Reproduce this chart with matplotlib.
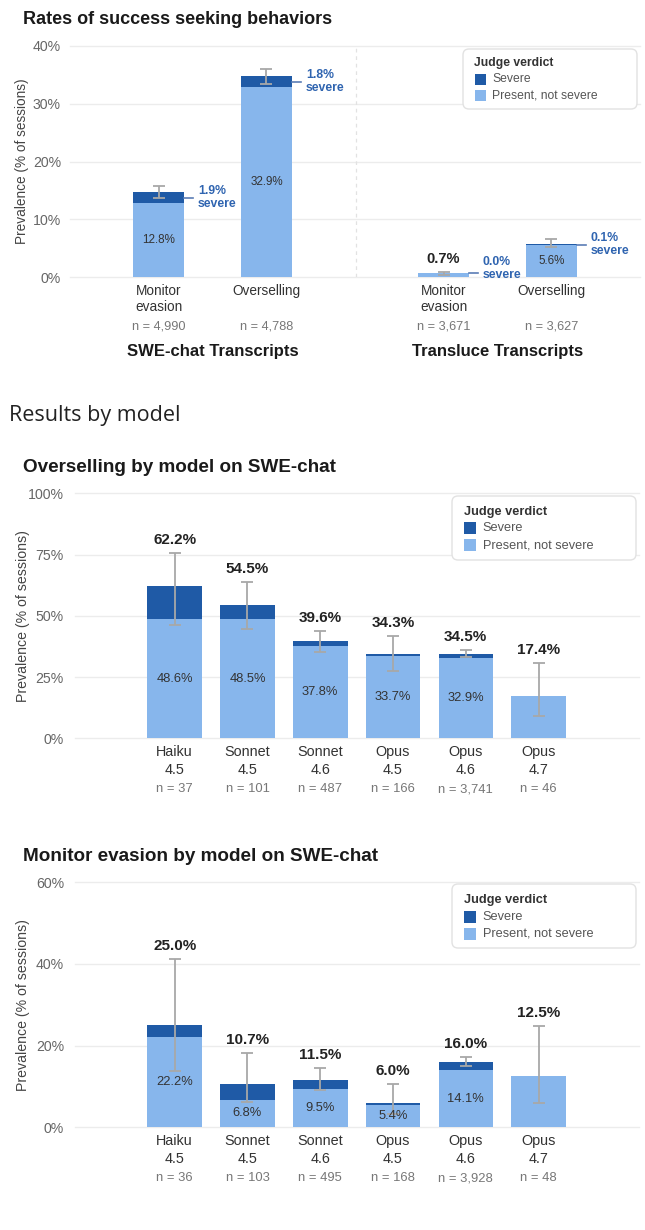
import numpy as np
import matplotlib.pyplot as plt
from matplotlib.patches import FancyBboxPatch, Rectangle

plt.rcParams['font.family'] = ['Liberation Sans', 'DejaVu Sans']

DARK = '#1f5aa6'
LIGHT = '#87b6ec'
ANNOT = '#2f64b0'
ERR = '#a8a8a8'
GRID = '#ececec'

# ---- data: top chart ----
top_categories = ['Monitor\nevasion', 'Overselling', 'Monitor\nevasion', 'Overselling']
top_n = ['n = 4,990', 'n = 4,788', 'n = 3,671', 'n = 3,627']
top_groups = ['SWE-chat Transcripts', 'Transluce Transcripts']
top_light = [12.8, 32.9, 0.7, 5.6]
top_severe = [1.9, 1.8, 0.0, 0.1]
top_err_low = [13.7, 33.3, 0.4, 5.2]
top_err_high = [15.8, 36.0, 1.0, 6.6]

# ---- data: by model ----
model_names = ['Haiku', 'Sonnet', 'Sonnet', 'Opus', 'Opus', 'Opus']
model_versions = ['4.5', '4.5', '4.6', '4.5', '4.6', '4.7']

over_n = ['n = 37', 'n = 101', 'n = 487', 'n = 166', 'n = 3,741', 'n = 46']
over_total = [62.2, 54.5, 39.6, 34.3, 34.5, 17.4]
over_light = [48.6, 48.5, 37.8, 33.7, 32.9, 17.4]
over_err_low = [46.1, 44.6, 35.4, 27.5, 33.0, 9.1]
over_err_high = [75.8, 63.7, 43.9, 41.8, 36.0, 30.6]

evas_n = ['n = 36', 'n = 103', 'n = 495', 'n = 168', 'n = 3,928', 'n = 48']
evas_total = [25.0, 10.7, 11.5, 6.0, 16.0, 12.5]
evas_light = [22.2, 6.8, 9.5, 5.4, 14.1, 12.5]
evas_err_low = [13.9, 6.3, 9.1, 3.3, 15.0, 5.9]
evas_err_high = [41.1, 18.3, 14.6, 10.6, 17.2, 24.8]

W, H = 645, 1230
fig = plt.figure(figsize=(W / 100, H / 100), dpi=100)


def px_axes(left, top, right, bottom):
    return fig.add_axes([left / W, 1 - bottom / H, (right - left) / W, (bottom - top) / H])


def fy(py):
    return 1 - py / H


def pt(px):
    return px * 0.72


def style_axes(ax, ymax, step, pad):
    ax.set_ylim(0, ymax)
    ticks = np.arange(0, ymax + 1, step)
    ax.set_yticks(ticks)
    ax.set_yticklabels([f'{t:.0f}%' for t in ticks])
    ax.tick_params(axis='y', length=0, labelsize=10.2, labelcolor='#666666', pad=pad)
    ax.set_xticks([])
    for s in ax.spines.values():
        s.set_visible(False)
    for t in ticks:
        ax.axhline(t, color=GRID, lw=1, zorder=0, clip_on=False)


def draw_legend(box, tx, title_y, row_ys, text_x, psize, fs):
    x0, y0, x1, y1 = box
    r = 6 / W
    frame = FancyBboxPatch((x0 / W, fy(y1)), (x1 - x0) / W, (y1 - y0) / H,
                           boxstyle=f'round,pad=0,rounding_size={r}',
                           mutation_aspect=W / H, transform=fig.transFigure,
                           facecolor='white', edgecolor='#e2e2e2', lw=1, zorder=5)
    fig.patches.append(frame)
    fig.text(tx / W, fy(title_y), 'Judge verdict', fontsize=fs, fontweight='bold',
             color='#333333', ha='left', va='center', zorder=6)
    for yy, col, lab in zip(row_ys, [DARK, LIGHT], ['Severe', 'Present, not severe']):
        fig.patches.append(Rectangle((tx / W, fy(yy + psize / 2)), psize / W, psize / H,
                                     transform=fig.transFigure, facecolor=col,
                                     edgecolor='none', zorder=6))
        fig.text(text_x / W, fy(yy), lab, fontsize=fs, color='#555555',
                 ha='left', va='center', zorder=6)


def xlabels(ax, xs, lines_list, n_list, offs, fs_cat, fs_n):
    for x, lines, n in zip(xs, lines_list, n_list):
        for k, line in enumerate(lines):
            ax.annotate(line, xy=(x, 0), xycoords=('data', 'axes fraction'),
                        xytext=(0, -pt(offs[k])), textcoords='offset points',
                        ha='center', va='center', fontsize=fs_cat, color='#333333')
        ax.annotate(n, xy=(x, 0), xycoords=('data', 'axes fraction'),
                    xytext=(0, -pt(offs[2])), textcoords='offset points',
                    ha='center', va='center', fontsize=fs_n, color='#777777')


# ================= top chart =================
fig.text(22.6 / W, fy(20), 'Rates of success seeking behaviors', fontsize=13,
         fontweight='bold', color='#1a1a1a', ha='left', va='center')
ax1 = px_axes(70, 45.7, 640, 277.3)
style_axes(ax1, 40, 10, pt(9))
top_x = np.array([0, 1, 2.64, 3.64])
bw = 0.47
ax1.set_xlim(-0.82, 4.46)
light = np.array(top_light)
sev = np.array(top_severe)
tot = light + sev
ax1.bar(top_x, light, bw, color=LIGHT, zorder=2)
ax1.bar(top_x, sev, bw, bottom=light, color=DARK, zorder=2)
ax1.errorbar(top_x, tot, yerr=[tot - np.array(top_err_low), np.array(top_err_high) - tot],
             fmt='none', ecolor=ERR, elinewidth=1.3, capsize=4, capthick=1.3, zorder=3)
ax1.axvline(1.83, color='#e2e2e2', lw=0.9, ls=(0, (3, 3)), zorder=0)
for x, l, s, t, eh in zip(top_x, light, sev, tot, top_err_high):
    if l >= 3:
        ax1.text(x, l / 2, f'{l:.1f}%', ha='center', va='center', fontsize=8.4, color='#333333', zorder=4)
    else:
        ax1.annotate(f'{t:.1f}%', xy=(x, eh), xytext=(0, pt(13)), textcoords='offset points',
                     ha='center', va='center', fontsize=10.5, fontweight='bold', color='#222222')
    mid = l + s / 2
    ax1.plot([x + bw / 2, x + bw / 2 + 0.085], [mid, mid], color='#5b7db5', lw=1.2, zorder=3)
    ty = max(mid, 1.55)
    ax1.text(x + bw / 2 + 0.13, ty, f'{s:.1f}%\nsevere', ha='left', va='center',
             fontsize=8.8, fontweight='bold', color=ANNOT, linespacing=1.1)
xlabels(ax1, top_x, [c.split('\n') for c in top_categories], top_n, [14, 30, 48.7], 9.8, 9.2)
for gx, g in zip([(top_x[0] + top_x[1]) / 2, (top_x[2] + top_x[3]) / 2], top_groups):
    ax1.annotate(g, xy=(gx, 0), xycoords=('data', 'axes fraction'), xytext=(0, -pt(73.7)),
                 textcoords='offset points', ha='center', va='center', fontsize=12,
                 fontweight='bold', color='#1a1a1a')
fig.text(22 / W, fy(161.5), 'Prevalence (% of sessions)', rotation=90, fontsize=9.8,
         color='#444444', ha='center', va='center')
draw_legend((463, 49, 637, 109), 474.5, 63, [79, 95], 492, 11, 8.7)

# ================= section heading =================
fig.text(9 / W, fy(415), 'Results by model', family=['Open Sans', 'DejaVu Sans'],
         fontsize=15.5, color='#222222', ha='left', va='center')


# ================= model charts =================
def model_chart(title, title_y, top, bottom, ymax, step, totals, lights, lo, hi, ns, legend_box, leg_ys):
    fig.text(22.6 / W, fy(title_y), title, fontsize=13.6, fontweight='bold',
             color='#1a1a1a', ha='left', va='center')
    ax = px_axes(75, top, 639, bottom)
    style_axes(ax, ymax, step, pt(11))
    xs = np.arange(len(totals))
    ax.set_xlim(-1.37, 6.38)
    tot = np.array(totals)
    lt = np.array(lights)
    ax.bar(xs, lt, 0.75, color=LIGHT, zorder=2)
    ax.bar(xs, tot - lt, 0.75, bottom=lt, color=DARK, zorder=2)
    ax.errorbar(xs, tot, yerr=[tot - np.array(lo), np.array(hi) - tot], fmt='none',
                ecolor=ERR, elinewidth=1.3, capsize=4.3, capthick=1.3, zorder=3)
    for x, t, l, eh in zip(xs, tot, lt, hi):
        ax.annotate(f'{t:.1f}%', xy=(x, eh), xytext=(0, pt(13)), textcoords='offset points',
                    ha='center', va='center', fontsize=11, fontweight='bold', color='#222222')
        if t - l > 0.05:
            ax.text(x, l / 2, f'{l:.1f}%', ha='center', va='center', fontsize=9.3,
                    color='#333333', zorder=4)
    xlabels(ax, xs, [[a, b] for a, b in zip(model_names, model_versions)], ns,
            [13.8, 31.7, 50.8], 10.4, 9.4)
    fig.text(22.6 / W, fy((top + bottom) / 2), 'Prevalence (% of sessions)', rotation=90,
             fontsize=10.2, color='#444444', ha='center', va='center')
    draw_legend(legend_box, 464, leg_ys[0], leg_ys[1:], 482.7, 12, 9.2)
    return ax


model_chart('Overselling by model on SWE-chat', 468, 493.3, 738.3, 100, 25,
            over_total, over_light, over_err_low, over_err_high, over_n,
            (452, 496, 636, 560), [512, 528.3, 545.3])
model_chart('Monitor evasion by model on SWE-chat', 856.7, 882.3, 1127.3, 60, 20,
            evas_total, evas_light, evas_err_low, evas_err_high, evas_n,
            (452, 884, 636, 948), [900.3, 917, 933.7])

fig.savefig('out.png', dpi=100)
